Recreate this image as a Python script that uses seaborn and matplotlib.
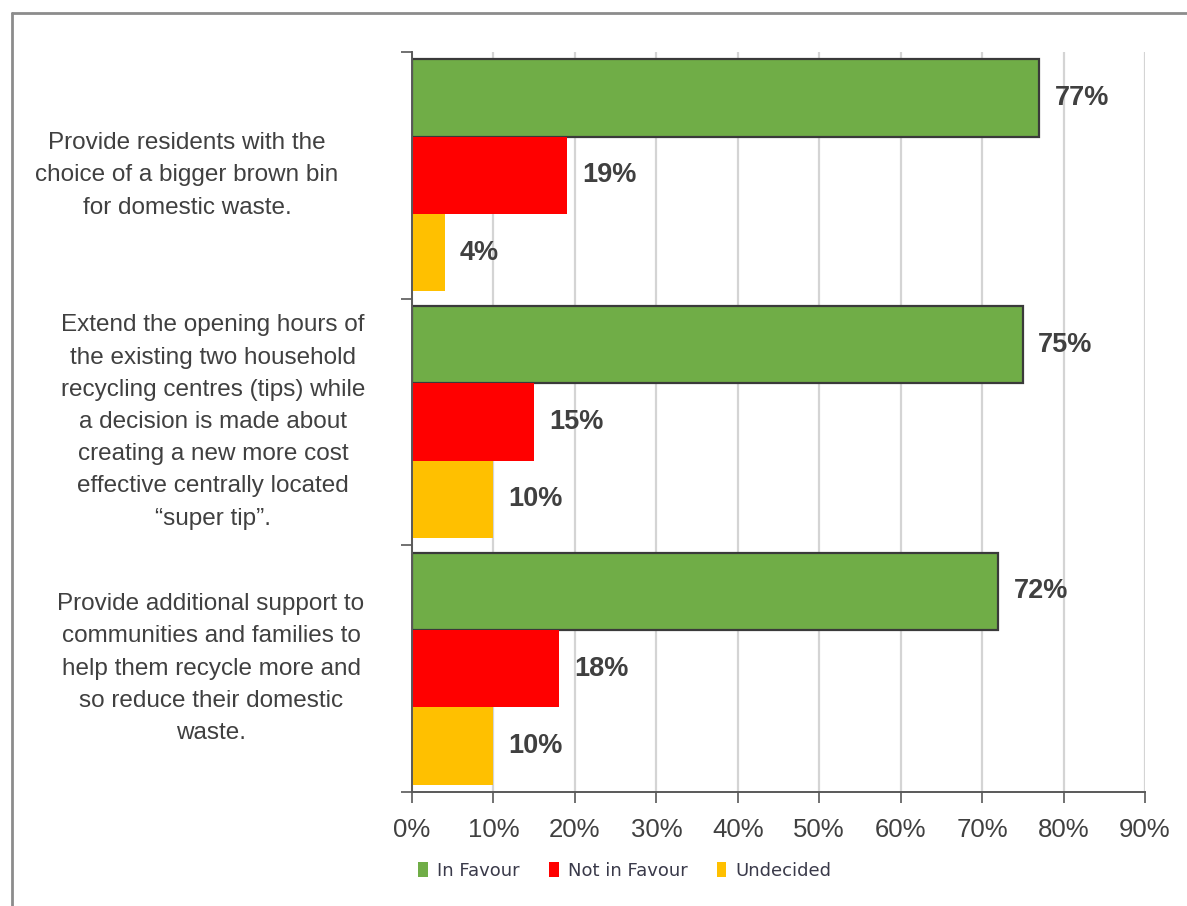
import matplotlib
matplotlib.use("Agg")
import matplotlib.pyplot as plt
from matplotlib.lines import Line2D
from matplotlib.patches import Patch
import matplotlib.transforms as mtransforms
import numpy as np
import pandas as pd
import seaborn as sns

# Survey proposals (category axis)
proposals = [
    "Provide residents with the\nchoice of a bigger brown bin\nfor domestic waste.",
    "Extend the opening hours of\nthe existing two household\nrecycling centres (tips) while\n"
    "a decision is made about\ncreating a new more cost\neffective centrally located\n\u201csuper tip\u201d.",
    "Provide additional support to\ncommunities and families to\nhelp them recycle more and\n"
    "so reduce their domestic\nwaste.",
]
responses = ["In Favour", "Not in Favour", "Undecided"]
in_favour = [77, 75, 72]
not_in_favour = [19, 15, 18]
undecided = [4, 10, 10]
x_ticks = [0, 10, 20, 30, 40, 50, 60, 70, 80, 90]

colors = ["#70AD47", "#FF0000", "#FFC000"]
text_color = "#404040"

df = pd.DataFrame({
    "proposal": proposals * 3,
    "response": np.repeat(responses, len(proposals)),
    "value": in_favour + not_in_favour + undecided,
})

sns.set_style("white")
plt.rcParams["font.family"] = ["Liberation Sans", "DejaVu Sans"]

fig = plt.figure(figsize=(11.87, 9.06), dpi=100)
W, H = 1187, 906
ax_left, ax_right, ax_top, ax_bottom = 412, 1145, 52, 792
ax = fig.add_axes([ax_left / W, 1 - ax_bottom / H,
                   (ax_right - ax_left) / W, (ax_bottom - ax_top) / H])

sns.barplot(data=df, x="value", y="proposal", hue="response",
            hue_order=responses, order=proposals, palette=colors,
            orient="h", width=0.94, dodge=True, ax=ax, legend=False,
            saturation=1, linewidth=0)

# outline on the "In Favour" bars only
for bar in ax.containers[0]:
    bar.set_edgecolor("#3a3a3a")
    bar.set_linewidth(1.6)

for cont in ax.containers:
    ax.bar_label(cont, fmt="{:.0f}%", padding=11, fontsize=19.5,
                 fontweight="bold", color=text_color)

ax.set_xlim(0, 90)
ax.set_ylim(2.5, -0.5)
ax.set_xticks(x_ticks)
ax.set_xticklabels([f"{t}%" for t in x_ticks], fontsize=18.5, color=text_color)
ax.set_xlabel("")
ax.set_ylabel("")

# category boundaries as outward ticks on the value axis
ax.set_yticks([])
ax.set_yticks(np.arange(-0.5, len(proposals), 1.0), minor=True)
ax.tick_params(axis="y", which="minor", left=True, length=8, width=1.2,
               color="#595959", direction="out")
ax.tick_params(axis="x", which="major", bottom=True, length=8, width=1.2,
               color="#595959", direction="out", pad=11)

ax.xaxis.grid(True, color="#d4d4d4", linewidth=1.6)
ax.yaxis.grid(False)
ax.set_axisbelow(True)
for side in ["top", "right"]:
    ax.spines[side].set_visible(False)
for side in ["left", "bottom"]:
    ax.spines[side].set_color("#595959")
    ax.spines[side].set_linewidth(1.4)

# wrapped category labels, centred beside each group
label_x_px = [187, 213, 211]
trans = mtransforms.blended_transform_factory(ax.transAxes, ax.transData)
for i, (lab, xp) in enumerate(zip(proposals, label_x_px)):
    ax.text((xp - ax_left) / (ax_right - ax_left), i, lab, transform=trans,
            ha="center", va="center", multialignment="center",
            fontsize=17.5, color=text_color, linespacing=1.6)

handles = [Patch(facecolor=c, edgecolor="none") for c in colors]
fig.legend(handles, responses, loc="center", bbox_to_anchor=(625 / W, 1 - 871 / H),
           ncol=3, frameon=False, handlelength=0.55, handleheight=0.9,
           handletextpad=0.5, columnspacing=1.6,
           prop={"family": "DejaVu Sans", "size": 13}, labelcolor="#3a3a4a")

# outer frame
fy = 1 - 13 / H
fx = 12 / W
fig.add_artist(Line2D([fx, fx], [0, fy], transform=fig.transFigure,
                      color="#8c8c8c", linewidth=2))
fig.add_artist(Line2D([fx, 1], [fy, fy], transform=fig.transFigure,
                      color="#8c8c8c", linewidth=2))

fig.savefig("out.png", dpi=100)
